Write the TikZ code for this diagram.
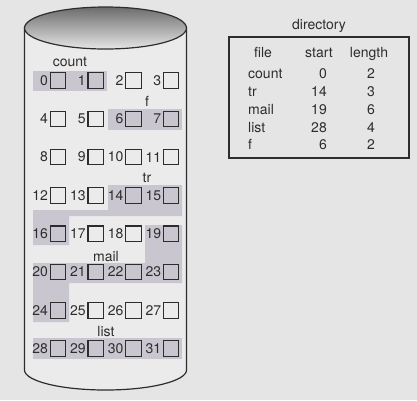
\documentclass[tikz,border=0pt]{standalone}
\usepackage{fontspec}
\setmainfont{TeX Gyre Heros}
\usetikzlibrary{positioning}
\definecolor{bg}{RGB}{229,229,229}
\definecolor{disk}{RGB}{235,235,235}
\definecolor{used}{RGB}{201,198,207}
\definecolor{ink}{RGB}{45,45,45}

\begin{document}
\begin{tikzpicture}[x=1pt,y=-1pt,
    txt/.style={font=\fontsize{14}{16}\selectfont,text=ink,inner sep=0pt},
    blk/.style={draw=ink,line width=1.1pt,minimum size=15.5pt,inner sep=0pt},
    num/.style={txt,anchor=east}]
  \fill[bg] (0,0) rectangle (417,400);
  \useasboundingbox (0,0) rectangle (417,400);
  % the disk
  \filldraw[fill=disk,draw=ink,line width=1.2pt] (24.5,28) -- (24.5,370)
    arc[start angle=180,end angle=360,x radius=81pt,y radius=20pt] -- (186.5,28) -- cycle;
  \shadedraw[top color=gray!85!black,bottom color=gray!20,draw=ink,line width=1.2pt]
    (105.5,28) ellipse[x radius=81pt,y radius=21pt];
  % blocks in use
  \fill[used] (33,71) rectangle (107,91);
  \fill[used] (108,109) rectangle (182,130);
  \fill[used] (108,185) -- (182,185) -- (182,216) -- (69,216) -- (69,245) -- (33,245) -- (33,210) -- (108,210) -- cycle;
  \fill[used] (145,225) -- (182,225) -- (182,283) -- (69,283) -- (69,322) -- (33,322) -- (33,263) -- (145,263) -- cycle;
  \fill[used] (33,338) rectangle (182,359);
  \foreach \i in {0,...,31} {
    \pgfmathsetmacro\cx{58+37.7*mod(\i,4)}
    \pgfmathsetmacro\cy{80.5+38.3*int(\i/4)}
    \node[blk] (b\i) at (\cx,\cy) {};
    \node[num,left=1.5pt of b\i] (n\i) {\i};
  }
  \node[txt,anchor=base] (count) at (70,66) {count};
  \node[txt,anchor=base] (f) at (147,106) {f};
  \node[txt,anchor=base] (tr) at (147,182) {tr};
  \node[txt,anchor=base] (mail) at (106,261) {mail};
  \node[txt,anchor=base] (list) at (106,336) {list};
  % directory
  \node[txt,anchor=base] (dir) at (319,29) {directory};
  \draw[ink,line width=1.2pt] (229,37) rectangle (409,158);
  \node[txt,anchor=base] (hfile) at (263,57) {file};
  \node[txt,anchor=base] (hstart) at (319,57) {start};
  \node[txt,anchor=base] (hlength) at (369,57) {length};
  \foreach \name/\start/\len/\y [count=\k] in {count/0/2/78, tr/14/3/96, mail/19/6/114, list/28/4/132, f/6/2/149} {
    \node[txt,anchor=base west] (fn\k) at (248,\y) {\name};
    \node[txt,anchor=base east] (st\k) at (327,\y) {\start};
    \node[txt,anchor=base] (ln\k) at (371,\y) {\len};
  }
\end{tikzpicture}
\end{document}
